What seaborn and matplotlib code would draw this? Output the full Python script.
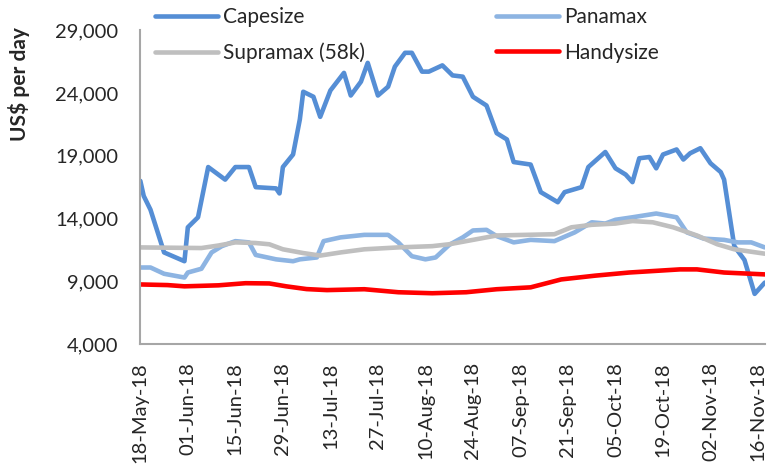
import pandas as pd
import numpy as np
import matplotlib
matplotlib.use("Agg")
import matplotlib.pyplot as plt
import matplotlib.dates as mdates
import seaborn as sns

# time charter rates, US$ per day
cape_dates = ['2018-05-18', '2018-05-19', '2018-05-21', '2018-05-25', '2018-05-31', '2018-06-01',
              '2018-06-04', '2018-06-07', '2018-06-12', '2018-06-15', '2018-06-19', '2018-06-21',
              '2018-06-27', '2018-06-28', '2018-06-29', '2018-07-02', '2018-07-04', '2018-07-05',
              '2018-07-08', '2018-07-10', '2018-07-13', '2018-07-17', '2018-07-19', '2018-07-22',
              '2018-07-24', '2018-07-27', '2018-07-30', '2018-08-01', '2018-08-04', '2018-08-06',
              '2018-08-09', '2018-08-11', '2018-08-15', '2018-08-18', '2018-08-21', '2018-08-24',
              '2018-08-28', '2018-08-31', '2018-09-03', '2018-09-05', '2018-09-10', '2018-09-13',
              '2018-09-18', '2018-09-20', '2018-09-25', '2018-09-27', '2018-10-02', '2018-10-05',
              '2018-10-08', '2018-10-10', '2018-10-12', '2018-10-15', '2018-10-17', '2018-10-19',
              '2018-10-23', '2018-10-25', '2018-10-27', '2018-10-30', '2018-11-02', '2018-11-05',
              '2018-11-06', '2018-11-09', '2018-11-12', '2018-11-15', '2018-11-18']
cape_values = [17000, 15800, 14700, 11300, 10600, 13300,
               14100, 18100, 17100, 18100, 18100, 16500,
               16400, 16000, 18100, 19100, 21900, 24100,
               23700, 22100, 24200, 25600, 23800, 24900,
               26400, 23800, 24500, 26100, 27200, 27200,
               25700, 25700, 26200, 25400, 25300, 23700,
               23000, 20800, 20300, 18500, 18300, 16100,
               15300, 16100, 16500, 18100, 19300, 18000,
               17500, 16900, 18800, 18900, 18000, 19100,
               19500, 18700, 19200, 19600, 18400, 17700,
               17100, 11800, 10700, 8000, 8900]

pana_dates = ['2018-05-18', '2018-05-21', '2018-05-25', '2018-05-31', '2018-06-01', '2018-06-05',
              '2018-06-08', '2018-06-11', '2018-06-15', '2018-06-19', '2018-06-21', '2018-06-27',
              '2018-07-02', '2018-07-04', '2018-07-09', '2018-07-11', '2018-07-16', '2018-07-23',
              '2018-07-30', '2018-08-02', '2018-08-06', '2018-08-10', '2018-08-13', '2018-08-17',
              '2018-08-21', '2018-08-24', '2018-08-28', '2018-08-31', '2018-09-05', '2018-09-10',
              '2018-09-17', '2018-09-23', '2018-09-28', '2018-10-02', '2018-10-05', '2018-10-10',
              '2018-10-17', '2018-10-23', '2018-10-26', '2018-10-31', '2018-11-06', '2018-11-10',
              '2018-11-14', '2018-11-18']
pana_values = [10100, 10100, 9600, 9300, 9700, 10000,
               11300, 11800, 12200, 12100, 11100, 10750,
               10600, 10750, 10900, 12200, 12500, 12700,
               12700, 12100, 11000, 10750, 10900, 11900,
               12500, 13050, 13100, 12600, 12100, 12300,
               12200, 12900, 13700, 13600, 13900, 14100,
               14400, 14100, 12900, 12400, 12300, 12100,
               12100, 11700]

supra_dates = ['2018-05-18', '2018-06-05', '2018-06-10', '2018-06-15', '2018-06-21', '2018-06-25',
               '2018-06-29', '2018-07-05', '2018-07-10', '2018-07-16', '2018-07-23', '2018-08-02',
               '2018-08-12', '2018-08-17', '2018-08-22', '2018-08-25', '2018-08-31', '2018-09-17',
               '2018-09-22', '2018-09-28', '2018-10-05', '2018-10-10', '2018-10-16', '2018-10-22',
               '2018-10-29', '2018-11-04', '2018-11-09', '2018-11-18']
supra_values = [11700, 11650, 11850, 12100, 12050, 11950,
                11550, 11250, 11050, 11300, 11550, 11700,
                11800, 11950, 12200, 12350, 12650, 12750,
                13300, 13500, 13600, 13800, 13700, 13300,
                12650, 11950, 11550, 11200]

handy_dates = ['2018-05-18', '2018-05-26', '2018-05-31', '2018-06-10', '2018-06-18', '2018-06-25',
               '2018-06-30', '2018-07-06', '2018-07-12', '2018-07-23', '2018-08-02', '2018-08-12',
               '2018-08-22', '2018-08-31', '2018-09-10', '2018-09-19', '2018-09-29', '2018-10-09',
               '2018-10-24', '2018-10-29', '2018-11-06', '2018-11-18']
handy_values = [8750, 8700, 8600, 8680, 8850, 8830,
                8600, 8380, 8300, 8370, 8130, 8050,
                8130, 8370, 8520, 9150, 9450, 9700,
                9950, 9950, 9700, 9550]

series_names = ['Capesize', 'Panamax', 'Supramax (58k)', 'Handysize']
colors = ['#558ED5', '#8DB4E2', '#BFBFBF', '#FF0000']

frames = []
for name, d, v in zip(series_names,
                      [cape_dates, pana_dates, supra_dates, handy_dates],
                      [cape_values, pana_values, supra_values, handy_values]):
    frames.append(pd.DataFrame({'date': pd.to_datetime(d), 'rate': v, 'vessel': name}))
df = pd.concat(frames, ignore_index=True)

sns.set_style("white")
plt.rcParams['font.family'] = ['Lato', 'DejaVu Sans']

fig = plt.figure(figsize=(7.71, 4.72), dpi=100)
ax = fig.add_axes([0.182, 0.271, 0.810, 0.665])

sns.lineplot(data=df, x='date', y='rate', hue='vessel', hue_order=series_names,
             palette=colors, linewidth=3.3, ax=ax, legend=True, sort=False)

# legend is filled column by column: put Capesize/Panamax on the first row
handles, labels = ax.get_legend_handles_labels()
ax.get_legend().remove()
order = [0, 2, 1, 3]
fig.legend([handles[i] for i in order], [labels[i] for i in order], ncol=2,
           loc='upper left', bbox_to_anchor=(0.177, 1.025),
           frameon=False, fontsize=15, handlelength=3.0, handletextpad=0.25,
           columnspacing=6.3, labelspacing=0.75)

ax.set_ylim(4000, 29000)
ax.set_yticks(np.arange(4000, 29001, 5000))
ax.yaxis.set_major_formatter(matplotlib.ticker.FuncFormatter(lambda v, p: f'{int(v):,}'))
ax.set_xlim(pd.Timestamp('2018-05-18'), pd.Timestamp('2018-11-18'))
ax.set_xticks(pd.date_range('2018-05-18', '2018-11-16', freq='14D'))
ax.xaxis.set_major_formatter(mdates.DateFormatter('%d-%b-%y'))
plt.setp(ax.get_xticklabels(), rotation=90)
ax.tick_params(axis='y', length=0, labelsize=14.5, pad=16)
ax.tick_params(axis='x', length=0, labelsize=14.5, pad=13)

ax.set_xlabel('')
ax.set_ylabel('US$ per day', fontsize=15, fontweight='bold')
ax.yaxis.set_label_coords(-0.176, 0.83)

for s in ['top', 'right']:
    ax.spines[s].set_visible(False)
for s in ['left', 'bottom']:
    ax.spines[s].set_color('#A6A6A6')
    ax.spines[s].set_linewidth(1.5)

fig.savefig('out.png', dpi=100)
